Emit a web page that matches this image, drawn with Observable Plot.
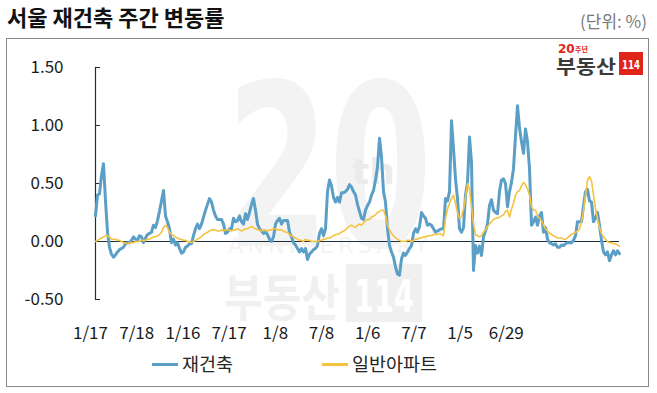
<!DOCTYPE html>
<html>
<head>
<meta charset="utf-8">
<script src="https://cdn.jsdelivr.net/npm/d3@7"></script>
<script src="https://cdn.jsdelivr.net/npm/@observablehq/plot@0.6"></script>
<style>
  html, body { margin: 0; padding: 0; background: #fff; }
  #wrap { position: relative; width: 657px; height: 393px; overflow: hidden;
          font-family: "Noto Sans CJK KR", "Noto Sans", sans-serif; color: #1a1a1a; }
  #title { position: absolute; left: 7px; top: 0px; font-size: 22px; font-weight: 700; color: #111; white-space: nowrap; }
  #unit { position: absolute; right: 10px; top: 8px; font-size: 17px; color: #7a7a7a; white-space: nowrap; }
  #box { position: absolute; left: 6px; top: 38px; width: 641px; height: 347px; border: 1px solid #8a8a8a; }
  #wm { position: absolute; left: 0; top: 0; }
  #chart { position: absolute; left: 0; top: 0; }
  #logo { position: absolute; left: 552px; top: 40px; overflow: visible; }
  #legend { position: absolute; left: 0; top: 351px; width: 657px; height: 26px; font-size: 18.5px; color: #262626; }
  .lg { position: absolute; top: 0; white-space: nowrap; line-height: 24px; }
  .sw { display: inline-block; width: 26px; height: 3px; vertical-align: middle; margin-right: 4px; position: relative; top: -1px; }
</style>
</head>
<body>
<div id="wrap">
  <div id="box"></div>
  <svg id="wm" width="657" height="393">
    <text x="226" y="246" font-family="DejaVu Sans" font-weight="bold" font-size="226" fill="#f3f3f3" textLength="206" lengthAdjust="spacingAndGlyphs">20</text>
    <text x="352" y="184" font-family="DejaVu Sans" font-weight="bold" font-size="36" fill="#ebebeb">th</text>
    <text x="228" y="253" font-family="DejaVu Sans" font-size="22" fill="#f3f3f3" textLength="200" lengthAdjust="spacing">ANNIVERSARY</text>
    <text x="224" y="316" font-family="Noto Sans CJK KR" font-weight="bold" font-size="50" fill="#f0f0f0" textLength="116" lengthAdjust="spacingAndGlyphs">부동산</text>
    <rect x="346" y="264" width="76" height="58" fill="#f0f0f0"></rect>
    <text x="384" y="312" text-anchor="middle" font-family="DejaVu Sans" font-weight="bold" font-size="44" fill="#ffffff" textLength="60" lengthAdjust="spacingAndGlyphs">114</text>
  </svg>
  <div id="title">서울 재건축 주간 변동률</div>
  <div id="unit">(단위: %)</div>
  <div id="chart"></div>
  <svg id="logo" width="96" height="40">
    <text x="6" y="13" font-family="DejaVu Sans" font-weight="bold" font-size="12" fill="#e0261b">20</text>
    <text x="23" y="12" font-family="Noto Sans CJK KR" font-weight="bold" font-size="7" fill="#e0261b">주년</text>
    <text x="4" y="34" font-family="Noto Sans CJK KR" font-weight="bold" font-size="19" fill="#3a3a3a" textLength="60" lengthAdjust="spacingAndGlyphs">부동산</text>
    <rect x="67" y="12" width="24" height="23" fill="#e0261b"></rect>
    <text x="79" y="29" text-anchor="middle" font-family="DejaVu Sans" font-weight="bold" font-size="13" fill="#ffffff" textLength="18" lengthAdjust="spacingAndGlyphs">114</text>
  </svg>
  <div id="legend">
    <div class="lg" style="left:152px"><span class="sw" style="background:#5b9fc7"></span>재건축</div>
    <div class="lg" style="left:322px"><span class="sw" style="background:#f5c242"></span>일반아파트</div>
  </div>
</div>
<script>
// 재건축 weekly change (%)
const rebuild = [
  0.22, 0.40, 0.41, 0.57, 0.67, 0.35, 0.08, -0.05, -0.11, -0.135,
  -0.115, -0.09, -0.07, -0.06, -0.05, -0.02, -0.01, -0.01, 0.01, 0.04,
  0.02, 0.01, 0.05, 0.04, -0.01, 0.03, 0.06, 0.07, 0.08, 0.14,
  0.12, 0.18, 0.26, 0.35, 0.44, 0.22, 0.17, 0.11, -0.01, 0.02,
  -0.03, -0.01, -0.06, -0.10, -0.09, -0.05, -0.04, -0.02, -0.02, 0.05,
  0.11, 0.15, 0.11, 0.15, 0.21, 0.27, 0.32, 0.37, 0.34, 0.27,
  0.22, 0.19, 0.19, 0.19, 0.15, 0.07, 0.08, 0.11, 0.11, 0.20,
  0.17, 0.18, 0.22, 0.17, 0.15, 0.24, 0.19, 0.25, 0.32, 0.37,
  0.27, 0.15, 0.11, 0.09, 0.07, 0.08, 0.06, 0.02, 0.00, 0.04,
  0.15, 0.18, 0.20, 0.15, 0.18, 0.18, 0.18, 0.08, 0.04, -0.01,
  -0.03, -0.06, -0.09, -0.06, -0.09, -0.06, -0.155, -0.11, -0.09, -0.07,
  -0.06, -0.035, 0.07, 0.11, 0.05, 0.11, 0.43, 0.53, 0.48, 0.38,
  0.34, 0.38, 0.34, 0.42, 0.42, 0.43, 0.45, 0.49, 0.47, 0.43,
  0.40, 0.32, 0.26, 0.20, 0.19, 0.27, 0.31, 0.34, 0.40, 0.44,
  0.53, 0.64, 0.89, 0.73, 0.43, 0.34, 0.11, -0.035, -0.09, -0.135,
  -0.22, -0.28, -0.29, -0.15, -0.10, -0.12, -0.09, -0.06, -0.035, 0.07,
  0.11, 0.08, 0.13, 0.25, 0.22, 0.20, 0.14, 0.15, 0.14, 0.11,
  0.08, 0.09, 0.10, 0.11, 0.11, 0.37, 0.35, 0.43, 1.04, 0.80,
  0.54, 0.37, 0.11, 0.08, 0.12, 0.40, 0.51, 0.90, 0.68, -0.25,
  -0.035, -0.10, -0.04, -0.12, 0.04, 0.09, 0.15, 0.31, 0.36, 0.27,
  0.25, 0.24, 0.43, 0.53, 0.54, 0.50, 0.30, 0.43, 0.51, 0.63,
  0.91, 1.17, 0.98, 0.86, 0.76, 0.97, 0.86, 0.63, 0.14, 0.17,
  0.21, 0.14, 0.22, 0.25, 0.08, 0.12, 0.02, -0.01, -0.02, -0.03,
  -0.02, -0.05, -0.05, -0.03, -0.035, -0.02, -0.01, -0.01, -0.01, 0.01,
  0.05, 0.17, 0.17, 0.17, 0.31, 0.43, 0.45, 0.35, 0.34, 0.17,
  0.20, 0.25, 0.14, 0.01, -0.09, -0.115, -0.09, -0.165, -0.115, -0.08,
  -0.115, -0.08, -0.105
];
// 일반아파트 weekly change (%)
const apartment = [
  0.00, 0.01, 0.02, 0.03, 0.04, 0.05, 0.05, 0.04, 0.02, 0.02,
  0.02, 0.01, 0.01, 0.00, -0.01, -0.01, -0.02, -0.01, -0.01, -0.01,
  0.00, 0.00, 0.00, 0.01, 0.01, 0.01, 0.02, 0.02, 0.03, 0.04,
  0.04, 0.05, 0.06, 0.08, 0.12, 0.14, 0.12, 0.08, 0.06, 0.05,
  0.04, 0.03, 0.02, 0.02, 0.01, 0.01, 0.00, 0.00, -0.01, 0.00,
  0.01, 0.02, 0.03, 0.04, 0.06, 0.07, 0.08, 0.09, 0.10, 0.10,
  0.10, 0.09, 0.09, 0.10, 0.09, 0.10, 0.10, 0.10, 0.09, 0.10,
  0.10, 0.11, 0.10, 0.09, 0.10, 0.11, 0.11, 0.12, 0.13, 0.12,
  0.11, 0.10, 0.10, 0.09, 0.10, 0.10, 0.09, 0.10, 0.10, 0.11,
  0.11, 0.10, 0.10, 0.10, 0.09, 0.08, 0.08, 0.06, 0.05, 0.04,
  0.03, 0.02, 0.01, 0.01, 0.00, 0.02, 0.01, 0.01, 0.00, 0.00,
  0.00, 0.00, 0.01, 0.01, 0.02, 0.02, 0.03, 0.03, 0.04, 0.05,
  0.06, 0.06, 0.07, 0.08, 0.09, 0.10, 0.12, 0.13, 0.14, 0.13,
  0.12, 0.14, 0.15, 0.14, 0.16, 0.18, 0.19, 0.19, 0.21, 0.22,
  0.23, 0.25, 0.26, 0.27, 0.27, 0.22, 0.14, 0.10, 0.07, 0.05,
  0.03, 0.02, 0.01, 0.00, 0.00, 0.00, 0.01, 0.01, 0.00, 0.01,
  0.02, 0.02, 0.03, 0.03, 0.04, 0.04, 0.05, 0.05, 0.05, 0.06,
  0.06, 0.06, 0.07, 0.06, 0.05, 0.20, 0.28, 0.33, 0.37, 0.40,
  0.33, 0.25, 0.20, 0.21, 0.28, 0.38, 0.50, 0.45, 0.30, 0.15,
  0.06, 0.05, 0.04, 0.05, 0.08, 0.10, 0.13, 0.15, 0.17, 0.19,
  0.20, 0.20, 0.21, 0.22, 0.23, 0.26, 0.27, 0.21, 0.28, 0.33,
  0.40, 0.43, 0.44, 0.48, 0.51, 0.49, 0.45, 0.40, 0.30, 0.27,
  0.27, 0.22, 0.20, 0.18, 0.14, 0.11, 0.09, 0.07, 0.06, 0.05,
  0.04, 0.03, 0.03, 0.03, 0.02, 0.02, 0.03, 0.05, 0.06, 0.07,
  0.08, 0.09, 0.11, 0.17, 0.27, 0.40, 0.53, 0.56, 0.52, 0.40,
  0.28, 0.20, 0.12, 0.07, 0.04, 0.02, 0.00, -0.01, -0.01, -0.02,
  -0.02, -0.03, -0.04
];
const tickLabels = ["1/17", "7/18", "1/16", "7/17", "1/8", "7/8", "1/6", "7/7", "1/5", "6/29"];
const yTicks = [-0.5, 0, 0.5, 1, 1.5];

const labelStep = 23.1;   // weeks between printed labels
const tickPos = tickLabels.map((_, k) => k * labelStep - 2.5);
const labelAt = new Map(tickPos.map((p, k) => [p, tickLabels[k]]));

const axisColor = "#1f2d3d";
const chart = Plot.plot({
  width: 657,
  height: 393,
  marginLeft: 95,
  marginRight: 38,
  marginTop: 67,
  marginBottom: 94,
  style: { background: "transparent", fontFamily: "'Noto Sans CJK KR', 'Noto Sans', sans-serif", fontSize: "17px", color: "#1a1a1a", overflow: "visible" },
  x: { domain: [0, rebuild.length - 1], axis: null },
  y: { domain: [-0.5, 1.5], axis: null },
  marks: [
    Plot.axisY({ ticks: yTicks, tickFormat: d => d.toFixed(2), tickSize: -5, tickPadding: 37, stroke: axisColor, fill: "#1a1a1a" }),
    Plot.axisX({ ticks: tickPos, tickFormat: d => labelAt.get(d), tickSize: 0, tickPadding: 27, fill: "#1a1a1a" }),
    Plot.frame({ anchor: "left", stroke: axisColor, strokeWidth: 1.2 }),
    Plot.ruleY([0], { stroke: axisColor, strokeWidth: 1.2 }),
    Plot.lineY(rebuild, { x: (d, i) => i, y: d => d, stroke: "#5b9fc7", strokeWidth: 3, strokeLinejoin: "round" }),
    Plot.lineY(apartment, { x: (d, i) => i, y: d => d, stroke: "#f5c242", strokeWidth: 1.6, strokeLinejoin: "round" })
  ]
});
document.getElementById("chart").appendChild(chart);
</script>
</body>
</html>
